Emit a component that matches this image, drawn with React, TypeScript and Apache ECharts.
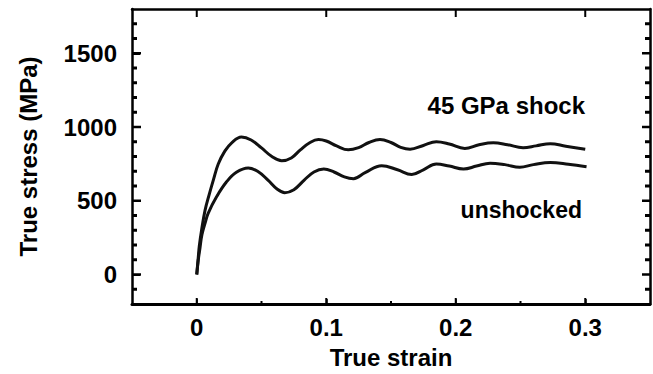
import React, { useEffect, useRef } from "react";
import * as echarts from "echarts";

// 45 GPa shock curve (true strain, true stress MPa)
const shockStrain = [0, 0.0012, 0.002, 0.0038, 0.0064, 0.0097, 0.0128, 0.0166, 0.0218, 0.027, 0.0345, 0.042, 0.05, 0.058, 0.0656, 0.073, 0.08, 0.0875, 0.094, 0.1, 0.108, 0.117, 0.125, 0.133, 0.1415, 0.15, 0.1575, 0.1647, 0.175, 0.185, 0.195, 0.207, 0.218, 0.229, 0.24, 0.252, 0.262, 0.273, 0.285, 0.3];
const shockStress = [0, 120, 195, 305, 435, 545, 640, 749, 838, 893, 932, 912, 858, 800, 771, 790, 845, 895, 915, 905, 872, 845, 860, 895, 915, 895, 862, 849, 875, 900, 885, 855, 880, 893, 880, 860, 872, 887, 870, 849];

// unshocked curve
const unshockedStrain = [0, 0.0012, 0.0025, 0.004, 0.0065, 0.0088, 0.0153, 0.0229, 0.0306, 0.0398, 0.047, 0.055, 0.062, 0.068, 0.075, 0.083, 0.0905, 0.0981, 0.106, 0.114, 0.121, 0.13, 0.1428, 0.155, 0.166, 0.175, 0.185, 0.195, 0.206, 0.216, 0.2265, 0.238, 0.2495, 0.26, 0.273, 0.287, 0.301];
const unshockedStress = [0, 100, 180, 270, 350, 415, 527, 627, 693, 722, 700, 640, 580, 555, 575, 640, 695, 715, 695, 662, 650, 690, 738, 710, 678, 710, 749, 735, 715, 735, 755, 745, 727, 745, 760, 748, 731];

// tick values
const xMajorTicks = [0, 0.1, 0.2, 0.3];
const xMinorTicks = [0.05, 0.15, 0.25];
const yMajorTicks = [0, 500, 1000, 1500];
const yMinorTicks = [-100, 100, 200, 300, 400, 600, 700, 800, 900, 1100, 1200, 1300, 1400, 1600, 1700];

const FONT = "Liberation Sans";
const BLACK = "#000";

type Side = "bottom" | "top" | "left" | "right";

function tickSeries(values: number[], side: Side, len: number, width: number, color: string) {
  const isX = side === "bottom" || side === "top";
  return {
    type: "scatter",
    xAxisIndex: 0,
    yAxisIndex: 0,
    silent: true,
    clip: false,
    z: 10,
    symbol: "rect",
    symbolSize: isX ? [width, len] : [len, width],
    symbolOffset: side === "bottom" ? [0, -len / 2] : side === "top" ? [0, len / 2] : side === "left" ? [len / 2, 0] : [-len / 2, 0],
    itemStyle: { color, opacity: 1 },
    data: values.map((v) => (isX ? [v, side === "bottom" ? -200 : 1800] : [side === "left" ? -0.05 : 0.35, v])),
  };
}

export default function App() {
  const ref = useRef<HTMLDivElement>(null);
  useEffect(() => {
    document.body.style.margin = "0";
    if (!ref.current) return;
    const chart = echarts.init(ref.current, null, { renderer: "svg" });
    const labelStyle = { color: BLACK, fontSize: 24, fontFamily: FONT, fontWeight: "bold" };

    chart.setOption({
      animation: false,
      grid: { left: 132, right: 3, top: 9, bottom: 65 },
      xAxis: [
        {
          type: "value",
          min: -0.05,
          max: 0.35,
          splitLine: { show: false },
          axisLine: { show: true, onZero: false, lineStyle: { color: BLACK, width: 3 } },
          axisTick: { show: true, inside: true, length: 5, customValues: xMajorTicks, lineStyle: { color: BLACK, width: 1.5 } },
          axisLabel: { show: true, customValues: xMajorTicks, margin: 11, formatter: (v: number) => String(+Number(v).toFixed(2)), ...labelStyle },
          name: "True strain",
          nameLocation: "middle",
          nameGap: 41,
          nameTextStyle: { ...labelStyle },
        },
        {
          type: "value",
          min: -0.05,
          max: 0.35,
          position: "top",
          splitLine: { show: false },
          axisLine: { show: true, onZero: false, lineStyle: { color: BLACK, width: 2.5 } },
          axisTick: { show: false },
          axisLabel: { show: false },
        },
      ],
      yAxis: [
        {
          type: "value",
          min: -200,
          max: 1800,
          splitLine: { show: false },
          axisLine: { show: true, onZero: false, lineStyle: { color: BLACK, width: 2.5 } },
          axisTick: { show: true, inside: true, length: 8, customValues: yMajorTicks, lineStyle: { color: BLACK, width: 2 } },
          axisLabel: { show: true, customValues: yMajorTicks, margin: 15, formatter: (v: number) => String(v), ...labelStyle },
          name: "True stress (MPa)",
          nameLocation: "middle",
          nameGap: 92,
          nameRotate: 90,
          nameTextStyle: { ...labelStyle },
        },
        {
          type: "value",
          min: -200,
          max: 1800,
          position: "right",
          splitLine: { show: false },
          axisLine: { show: true, onZero: false, lineStyle: { color: BLACK, width: 2.5 } },
          axisTick: { show: false },
          axisLabel: { show: false },
        },
      ],
      series: [
        {
          name: "45 GPa shock",
          type: "line",
          xAxisIndex: 0,
          yAxisIndex: 0,
          data: shockStrain.map((x, i) => [x, shockStress[i]]),
          showSymbol: false,
          smooth: 0.4,
          lineStyle: { color: "#111", width: 3 },
        },
        {
          name: "unshocked",
          type: "line",
          xAxisIndex: 0,
          yAxisIndex: 0,
          data: unshockedStrain.map((x, i) => [x, unshockedStress[i]]),
          showSymbol: false,
          smooth: 0.4,
          lineStyle: { color: "#111", width: 3 },
        },
        tickSeries(xMajorTicks, "bottom", 6, 2, BLACK),
        tickSeries(xMinorTicks, "bottom", 3, 2, BLACK),
        tickSeries(xMajorTicks, "top", 8, 2, BLACK),
        tickSeries(yMajorTicks, "left", 9, 2.5, BLACK),
        tickSeries(yMinorTicks, "left", 5, 3, BLACK),
        tickSeries(yMajorTicks, "right", 8, 2.5, BLACK),
        tickSeries(yMinorTicks, "right", 5, 3, BLACK),
      ],
      graphic: [
        {
          type: "text",
          x: 585,
          y: 105,
          style: { text: "45 GPa shock", fill: BLACK, fontSize: 24, fontFamily: FONT, fontWeight: "bold", align: "right", verticalAlign: "middle" },
        },
        {
          type: "text",
          x: 582,
          y: 210,
          style: { text: "unshocked", fill: BLACK, fontSize: 23, fontFamily: FONT, fontWeight: "bold", align: "right", verticalAlign: "middle" },
        },
      ],
    });
    return () => chart.dispose();
  }, []);
  return <div ref={ref} style={{ width: 653, height: 374 }} />;
}
